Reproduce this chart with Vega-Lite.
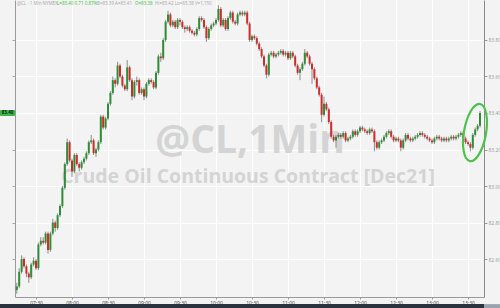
{
"$schema": "https://vega.github.io/schema/vega-lite/v6.json",
"width": 469, "height": 297,
"autosize": {"type": "none"},
"padding": {"left": 15, "top": 0, "right": 16, "bottom": 11},
"background": "#f3f3f3",
"view": {"stroke": null},
"config": {"font": "Open Sans"},
"resolve": {"axis": {"y": "independent"}},
"data": {"values": [
{"t":"2021-10-26T07:14","o":82.43,"h":82.47,"l":82.41,"c":82.45},
{"t":"2021-10-26T07:16","o":82.45,"h":82.55,"l":82.44,"c":82.53},
{"t":"2021-10-26T07:18","o":82.53,"h":82.62,"l":82.52,"c":82.60},
{"t":"2021-10-26T07:20","o":82.60,"h":82.61,"l":82.55,"c":82.56},
{"t":"2021-10-26T07:22","o":82.56,"h":82.57,"l":82.50,"c":82.52},
{"t":"2021-10-26T07:24","o":82.52,"h":82.53,"l":82.47,"c":82.50},
{"t":"2021-10-26T07:26","o":82.50,"h":82.58,"l":82.49,"c":82.57},
{"t":"2021-10-26T07:28","o":82.57,"h":82.61,"l":82.56,"c":82.59},
{"t":"2021-10-26T07:30","o":82.59,"h":82.60,"l":82.54,"c":82.55},
{"t":"2021-10-26T07:32","o":82.55,"h":82.69,"l":82.54,"c":82.68},
{"t":"2021-10-26T07:34","o":82.68,"h":82.72,"l":82.67,"c":82.70},
{"t":"2021-10-26T07:36","o":82.70,"h":82.72,"l":82.68,"c":82.69},
{"t":"2021-10-26T07:38","o":82.69,"h":82.75,"l":82.68,"c":82.74},
{"t":"2021-10-26T07:40","o":82.74,"h":82.75,"l":82.63,"c":82.65},
{"t":"2021-10-26T07:42","o":82.65,"h":82.75,"l":82.64,"c":82.74},
{"t":"2021-10-26T07:44","o":82.74,"h":82.82,"l":82.73,"c":82.80},
{"t":"2021-10-26T07:46","o":82.80,"h":82.81,"l":82.75,"c":82.77},
{"t":"2021-10-26T07:48","o":82.77,"h":82.85,"l":82.76,"c":82.84},
{"t":"2021-10-26T07:50","o":82.84,"h":82.90,"l":82.83,"c":82.89},
{"t":"2021-10-26T07:52","o":82.89,"h":83.00,"l":82.88,"c":82.99},
{"t":"2021-10-26T07:54","o":82.99,"h":83.13,"l":82.98,"c":83.12},
{"t":"2021-10-26T07:56","o":83.12,"h":83.26,"l":83.11,"c":83.24},
{"t":"2021-10-26T07:58","o":83.24,"h":83.25,"l":83.13,"c":83.14},
{"t":"2021-10-26T08:00","o":83.14,"h":83.15,"l":83.05,"c":83.08},
{"t":"2021-10-26T08:02","o":83.08,"h":83.18,"l":83.07,"c":83.17},
{"t":"2021-10-26T08:04","o":83.17,"h":83.18,"l":83.11,"c":83.12},
{"t":"2021-10-26T08:06","o":83.12,"h":83.13,"l":83.08,"c":83.10},
{"t":"2021-10-26T08:08","o":83.10,"h":83.14,"l":83.09,"c":83.13},
{"t":"2021-10-26T08:10","o":83.13,"h":83.16,"l":83.12,"c":83.15},
{"t":"2021-10-26T08:12","o":83.15,"h":83.19,"l":83.14,"c":83.18},
{"t":"2021-10-26T08:14","o":83.18,"h":83.25,"l":83.17,"c":83.24},
{"t":"2021-10-26T08:16","o":83.24,"h":83.28,"l":83.23,"c":83.25},
{"t":"2021-10-26T08:18","o":83.25,"h":83.26,"l":83.17,"c":83.18},
{"t":"2021-10-26T08:20","o":83.18,"h":83.21,"l":83.16,"c":83.20},
{"t":"2021-10-26T08:22","o":83.20,"h":83.25,"l":83.19,"c":83.24},
{"t":"2021-10-26T08:24","o":83.24,"h":83.39,"l":83.23,"c":83.38},
{"t":"2021-10-26T08:26","o":83.38,"h":83.39,"l":83.31,"c":83.32},
{"t":"2021-10-26T08:28","o":83.32,"h":83.38,"l":83.31,"c":83.37},
{"t":"2021-10-26T08:30","o":83.37,"h":83.46,"l":83.36,"c":83.45},
{"t":"2021-10-26T08:32","o":83.45,"h":83.52,"l":83.44,"c":83.51},
{"t":"2021-10-26T08:34","o":83.51,"h":83.60,"l":83.50,"c":83.58},
{"t":"2021-10-26T08:36","o":83.58,"h":83.59,"l":83.54,"c":83.56},
{"t":"2021-10-26T08:38","o":83.56,"h":83.68,"l":83.55,"c":83.66},
{"t":"2021-10-26T08:40","o":83.66,"h":83.67,"l":83.59,"c":83.60},
{"t":"2021-10-26T08:42","o":83.60,"h":83.61,"l":83.54,"c":83.55},
{"t":"2021-10-26T08:44","o":83.55,"h":83.56,"l":83.52,"c":83.53},
{"t":"2021-10-26T08:46","o":83.53,"h":83.69,"l":83.52,"c":83.65},
{"t":"2021-10-26T08:48","o":83.65,"h":83.66,"l":83.57,"c":83.58},
{"t":"2021-10-26T08:50","o":83.58,"h":83.59,"l":83.47,"c":83.49},
{"t":"2021-10-26T08:52","o":83.49,"h":83.58,"l":83.48,"c":83.57},
{"t":"2021-10-26T08:54","o":83.57,"h":83.60,"l":83.55,"c":83.58},
{"t":"2021-10-26T08:56","o":83.58,"h":83.59,"l":83.50,"c":83.51},
{"t":"2021-10-26T08:58","o":83.51,"h":83.54,"l":83.50,"c":83.53},
{"t":"2021-10-26T09:00","o":83.53,"h":83.54,"l":83.47,"c":83.49},
{"t":"2021-10-26T09:02","o":83.49,"h":83.57,"l":83.48,"c":83.56},
{"t":"2021-10-26T09:04","o":83.56,"h":83.59,"l":83.55,"c":83.58},
{"t":"2021-10-26T09:06","o":83.58,"h":83.59,"l":83.56,"c":83.57},
{"t":"2021-10-26T09:08","o":83.57,"h":83.58,"l":83.53,"c":83.54},
{"t":"2021-10-26T09:10","o":83.54,"h":83.63,"l":83.53,"c":83.62},
{"t":"2021-10-26T09:12","o":83.62,"h":83.72,"l":83.61,"c":83.71},
{"t":"2021-10-26T09:14","o":83.71,"h":83.73,"l":83.68,"c":83.70},
{"t":"2021-10-26T09:16","o":83.70,"h":83.81,"l":83.69,"c":83.80},
{"t":"2021-10-26T09:18","o":83.80,"h":83.91,"l":83.79,"c":83.90},
{"t":"2021-10-26T09:20","o":83.90,"h":83.96,"l":83.89,"c":83.94},
{"t":"2021-10-26T09:22","o":83.94,"h":83.95,"l":83.87,"c":83.88},
{"t":"2021-10-26T09:24","o":83.88,"h":83.91,"l":83.87,"c":83.90},
{"t":"2021-10-26T09:26","o":83.90,"h":83.91,"l":83.86,"c":83.87},
{"t":"2021-10-26T09:28","o":83.87,"h":83.92,"l":83.86,"c":83.91},
{"t":"2021-10-26T09:30","o":83.91,"h":83.92,"l":83.88,"c":83.90},
{"t":"2021-10-26T09:32","o":83.90,"h":83.91,"l":83.86,"c":83.87},
{"t":"2021-10-26T09:34","o":83.87,"h":83.88,"l":83.84,"c":83.86},
{"t":"2021-10-26T09:36","o":83.86,"h":83.88,"l":83.85,"c":83.87},
{"t":"2021-10-26T09:38","o":83.87,"h":83.88,"l":83.84,"c":83.85},
{"t":"2021-10-26T09:40","o":83.85,"h":83.86,"l":83.83,"c":83.84},
{"t":"2021-10-26T09:42","o":83.84,"h":83.85,"l":83.82,"c":83.83},
{"t":"2021-10-26T09:44","o":83.83,"h":83.87,"l":83.82,"c":83.86},
{"t":"2021-10-26T09:46","o":83.86,"h":83.93,"l":83.85,"c":83.92},
{"t":"2021-10-26T09:48","o":83.92,"h":83.93,"l":83.90,"c":83.91},
{"t":"2021-10-26T09:50","o":83.91,"h":83.92,"l":83.86,"c":83.87},
{"t":"2021-10-26T09:52","o":83.87,"h":83.88,"l":83.79,"c":83.81},
{"t":"2021-10-26T09:54","o":83.81,"h":83.87,"l":83.80,"c":83.86},
{"t":"2021-10-26T09:56","o":83.86,"h":83.89,"l":83.85,"c":83.88},
{"t":"2021-10-26T09:58","o":83.88,"h":83.90,"l":83.87,"c":83.89},
{"t":"2021-10-26T10:00","o":83.89,"h":83.92,"l":83.88,"c":83.91},
{"t":"2021-10-26T10:02","o":83.91,"h":83.99,"l":83.90,"c":83.97},
{"t":"2021-10-26T10:04","o":83.97,"h":83.98,"l":83.87,"c":83.88},
{"t":"2021-10-26T10:06","o":83.88,"h":83.92,"l":83.87,"c":83.91},
{"t":"2021-10-26T10:08","o":83.91,"h":83.92,"l":83.85,"c":83.86},
{"t":"2021-10-26T10:10","o":83.86,"h":83.93,"l":83.85,"c":83.92},
{"t":"2021-10-26T10:12","o":83.92,"h":83.96,"l":83.91,"c":83.95},
{"t":"2021-10-26T10:14","o":83.95,"h":83.96,"l":83.89,"c":83.90},
{"t":"2021-10-26T10:16","o":83.90,"h":83.91,"l":83.88,"c":83.89},
{"t":"2021-10-26T10:18","o":83.89,"h":83.95,"l":83.88,"c":83.94},
{"t":"2021-10-26T10:20","o":83.94,"h":83.96,"l":83.93,"c":83.95},
{"t":"2021-10-26T10:22","o":83.95,"h":83.96,"l":83.93,"c":83.94},
{"t":"2021-10-26T10:24","o":83.94,"h":83.96,"l":83.93,"c":83.95},
{"t":"2021-10-26T10:26","o":83.95,"h":83.96,"l":83.88,"c":83.89},
{"t":"2021-10-26T10:28","o":83.89,"h":83.90,"l":83.79,"c":83.80},
{"t":"2021-10-26T10:30","o":83.80,"h":83.83,"l":83.79,"c":83.82},
{"t":"2021-10-26T10:32","o":83.82,"h":83.83,"l":83.80,"c":83.81},
{"t":"2021-10-26T10:34","o":83.81,"h":83.82,"l":83.77,"c":83.78},
{"t":"2021-10-26T10:36","o":83.78,"h":83.79,"l":83.74,"c":83.75},
{"t":"2021-10-26T10:38","o":83.75,"h":83.76,"l":83.70,"c":83.71},
{"t":"2021-10-26T10:40","o":83.71,"h":83.72,"l":83.65,"c":83.66},
{"t":"2021-10-26T10:42","o":83.66,"h":83.67,"l":83.59,"c":83.61},
{"t":"2021-10-26T10:44","o":83.61,"h":83.73,"l":83.60,"c":83.72},
{"t":"2021-10-26T10:46","o":83.72,"h":83.74,"l":83.71,"c":83.73},
{"t":"2021-10-26T10:48","o":83.73,"h":83.74,"l":83.70,"c":83.71},
{"t":"2021-10-26T10:50","o":83.71,"h":83.73,"l":83.70,"c":83.72},
{"t":"2021-10-26T10:52","o":83.72,"h":83.74,"l":83.71,"c":83.73},
{"t":"2021-10-26T10:54","o":83.73,"h":83.75,"l":83.72,"c":83.74},
{"t":"2021-10-26T10:56","o":83.74,"h":83.75,"l":83.71,"c":83.72},
{"t":"2021-10-26T10:58","o":83.72,"h":83.74,"l":83.71,"c":83.73},
{"t":"2021-10-26T11:00","o":83.73,"h":83.74,"l":83.69,"c":83.70},
{"t":"2021-10-26T11:02","o":83.70,"h":83.74,"l":83.69,"c":83.73},
{"t":"2021-10-26T11:04","o":83.73,"h":83.74,"l":83.70,"c":83.71},
{"t":"2021-10-26T11:06","o":83.71,"h":83.72,"l":83.65,"c":83.66},
{"t":"2021-10-26T11:08","o":83.66,"h":83.67,"l":83.61,"c":83.62},
{"t":"2021-10-26T11:10","o":83.62,"h":83.65,"l":83.58,"c":83.64},
{"t":"2021-10-26T11:12","o":83.64,"h":83.68,"l":83.63,"c":83.67},
{"t":"2021-10-26T11:14","o":83.67,"h":83.75,"l":83.66,"c":83.73},
{"t":"2021-10-26T11:16","o":83.73,"h":83.74,"l":83.70,"c":83.71},
{"t":"2021-10-26T11:18","o":83.71,"h":83.72,"l":83.66,"c":83.67},
{"t":"2021-10-26T11:20","o":83.67,"h":83.68,"l":83.56,"c":83.64},
{"t":"2021-10-26T11:22","o":83.64,"h":83.65,"l":83.58,"c":83.59},
{"t":"2021-10-26T11:24","o":83.59,"h":83.60,"l":83.53,"c":83.54},
{"t":"2021-10-26T11:26","o":83.54,"h":83.55,"l":83.49,"c":83.50},
{"t":"2021-10-26T11:28","o":83.50,"h":83.51,"l":83.35,"c":83.39},
{"t":"2021-10-26T11:30","o":83.39,"h":83.49,"l":83.38,"c":83.45},
{"t":"2021-10-26T11:32","o":83.45,"h":83.46,"l":83.41,"c":83.42},
{"t":"2021-10-26T11:34","o":83.42,"h":83.43,"l":83.34,"c":83.35},
{"t":"2021-10-26T11:36","o":83.35,"h":83.36,"l":83.26,"c":83.27},
{"t":"2021-10-26T11:38","o":83.27,"h":83.28,"l":83.24,"c":83.25},
{"t":"2021-10-26T11:40","o":83.25,"h":83.28,"l":83.21,"c":83.27},
{"t":"2021-10-26T11:42","o":83.27,"h":83.29,"l":83.26,"c":83.28},
{"t":"2021-10-26T11:44","o":83.28,"h":83.29,"l":83.26,"c":83.27},
{"t":"2021-10-26T11:46","o":83.27,"h":83.30,"l":83.26,"c":83.29},
{"t":"2021-10-26T11:48","o":83.29,"h":83.30,"l":83.24,"c":83.25},
{"t":"2021-10-26T11:50","o":83.25,"h":83.27,"l":83.24,"c":83.26},
{"t":"2021-10-26T11:52","o":83.26,"h":83.28,"l":83.25,"c":83.27},
{"t":"2021-10-26T11:54","o":83.27,"h":83.31,"l":83.26,"c":83.30},
{"t":"2021-10-26T11:56","o":83.30,"h":83.31,"l":83.27,"c":83.28},
{"t":"2021-10-26T11:58","o":83.28,"h":83.31,"l":83.27,"c":83.30},
{"t":"2021-10-26T12:00","o":83.30,"h":83.33,"l":83.29,"c":83.32},
{"t":"2021-10-26T12:02","o":83.32,"h":83.33,"l":83.30,"c":83.31},
{"t":"2021-10-26T12:04","o":83.31,"h":83.32,"l":83.29,"c":83.30},
{"t":"2021-10-26T12:06","o":83.30,"h":83.31,"l":83.28,"c":83.29},
{"t":"2021-10-26T12:08","o":83.29,"h":83.32,"l":83.28,"c":83.31},
{"t":"2021-10-26T12:10","o":83.31,"h":83.32,"l":83.29,"c":83.30},
{"t":"2021-10-26T12:12","o":83.30,"h":83.31,"l":83.19,"c":83.24},
{"t":"2021-10-26T12:14","o":83.24,"h":83.25,"l":83.20,"c":83.21},
{"t":"2021-10-26T12:16","o":83.21,"h":83.25,"l":83.20,"c":83.24},
{"t":"2021-10-26T12:18","o":83.24,"h":83.26,"l":83.23,"c":83.25},
{"t":"2021-10-26T12:20","o":83.25,"h":83.28,"l":83.24,"c":83.27},
{"t":"2021-10-26T12:22","o":83.27,"h":83.30,"l":83.26,"c":83.29},
{"t":"2021-10-26T12:24","o":83.29,"h":83.31,"l":83.28,"c":83.30},
{"t":"2021-10-26T12:26","o":83.30,"h":83.31,"l":83.26,"c":83.27},
{"t":"2021-10-26T12:28","o":83.27,"h":83.28,"l":83.24,"c":83.25},
{"t":"2021-10-26T12:30","o":83.25,"h":83.27,"l":83.24,"c":83.26},
{"t":"2021-10-26T12:32","o":83.26,"h":83.27,"l":83.24,"c":83.25},
{"t":"2021-10-26T12:34","o":83.25,"h":83.26,"l":83.19,"c":83.21},
{"t":"2021-10-26T12:36","o":83.21,"h":83.26,"l":83.20,"c":83.25},
{"t":"2021-10-26T12:38","o":83.25,"h":83.29,"l":83.24,"c":83.28},
{"t":"2021-10-26T12:40","o":83.28,"h":83.29,"l":83.25,"c":83.26},
{"t":"2021-10-26T12:42","o":83.26,"h":83.27,"l":83.24,"c":83.25},
{"t":"2021-10-26T12:44","o":83.25,"h":83.27,"l":83.24,"c":83.26},
{"t":"2021-10-26T12:46","o":83.26,"h":83.28,"l":83.25,"c":83.27},
{"t":"2021-10-26T12:48","o":83.27,"h":83.29,"l":83.26,"c":83.28},
{"t":"2021-10-26T12:50","o":83.28,"h":83.30,"l":83.27,"c":83.29},
{"t":"2021-10-26T12:52","o":83.29,"h":83.30,"l":83.27,"c":83.28},
{"t":"2021-10-26T12:54","o":83.28,"h":83.29,"l":83.26,"c":83.27},
{"t":"2021-10-26T12:56","o":83.27,"h":83.28,"l":83.25,"c":83.26},
{"t":"2021-10-26T12:58","o":83.26,"h":83.27,"l":83.24,"c":83.25},
{"t":"2021-10-26T13:00","o":83.25,"h":83.26,"l":83.23,"c":83.24},
{"t":"2021-10-26T13:02","o":83.24,"h":83.27,"l":83.23,"c":83.26},
{"t":"2021-10-26T13:04","o":83.26,"h":83.28,"l":83.25,"c":83.27},
{"t":"2021-10-26T13:06","o":83.27,"h":83.28,"l":83.25,"c":83.26},
{"t":"2021-10-26T13:08","o":83.26,"h":83.27,"l":83.24,"c":83.25},
{"t":"2021-10-26T13:10","o":83.25,"h":83.27,"l":83.24,"c":83.26},
{"t":"2021-10-26T13:12","o":83.26,"h":83.27,"l":83.24,"c":83.25},
{"t":"2021-10-26T13:14","o":83.25,"h":83.27,"l":83.24,"c":83.26},
{"t":"2021-10-26T13:16","o":83.26,"h":83.28,"l":83.25,"c":83.27},
{"t":"2021-10-26T13:18","o":83.27,"h":83.28,"l":83.25,"c":83.26},
{"t":"2021-10-26T13:20","o":83.26,"h":83.28,"l":83.25,"c":83.27},
{"t":"2021-10-26T13:22","o":83.27,"h":83.29,"l":83.26,"c":83.28},
{"t":"2021-10-26T13:24","o":83.28,"h":83.30,"l":83.27,"c":83.29},
{"t":"2021-10-26T13:26","o":83.29,"h":83.30,"l":83.25,"c":83.26},
{"t":"2021-10-26T13:28","o":83.26,"h":83.27,"l":83.23,"c":83.24},
{"t":"2021-10-26T13:30","o":83.24,"h":83.25,"l":83.22,"c":83.23},
{"t":"2021-10-26T13:32","o":83.23,"h":83.24,"l":83.19,"c":83.21},
{"t":"2021-10-26T13:34","o":83.21,"h":83.29,"l":83.20,"c":83.28},
{"t":"2021-10-26T13:36","o":83.28,"h":83.32,"l":83.27,"c":83.31},
{"t":"2021-10-26T13:38","o":83.31,"h":83.34,"l":83.30,"c":83.33},
{"t":"2021-10-26T13:40","o":83.33,"h":83.41,"l":83.32,"c":83.40}
]},
"encoding": {
  "x": {"field": "t", "type": "temporal", "title": null,
    "scale": {"domain": [{"year":2021,"month":10,"date":26,"hours":7,"minutes":12,"seconds":30},{"year":2021,"month":10,"date":26,"hours":13,"minutes":43,"seconds":20}], "nice": false, "padding": 0},
    "axis": {"format": "%H:%M", "labelFontSize": 5, "labelColor": "#444444", "tickSize": 2, "tickColor": "#9a9a9a", "domainColor": "#9a9a9a", "grid": true, "gridColor": "#ffffff", "labelPadding": 1, "title": null}}
},
"layer": [
  {
    "data": {"values": [{"t": "2021-10-26T10:28:20", "label": "@CL,1Min"}]},
    "mark": {"type": "text", "font": "Open Sans", "fontSize": 39, "fontWeight": "bold", "color": "#d4d4d4", "align": "center", "baseline": "alphabetic"},
    "encoding": {
      "y": {"datum": 83.18, "type": "quantitative", "scale": {"domain": [82.392, 84.019], "nice": false, "zero": false}, "axis": null},
      "text": {"field": "label"}
    }
  },
  {
    "data": {"values": [{"t": "2021-10-26T10:26:40", "label": "Crude Oil Continuous Contract [Dec21]"}]},
    "mark": {"type": "text", "font": "Open Sans", "fontSize": 19.5, "fontWeight": "bold", "color": "#d4d4d4", "align": "center", "baseline": "alphabetic"},
    "encoding": {
      "y": {"datum": 83.015, "type": "quantitative", "scale": {"domain": [82.392, 84.019], "nice": false, "zero": false}, "axis": null},
      "text": {"field": "label"}
    }
  },
  {
    "mark": {"type": "rule", "color": "#8c8c8c", "strokeWidth": 1},
    "encoding": {
      "y": {"field": "l", "type": "quantitative", "title": null, "scale": {"domain": [82.392, 84.019], "nice": false, "zero": false},
        "axis": {"orient": "right", "values": [82.6, 82.8, 83.0, 83.2, 83.4, 83.6, 83.8], "format": ".2f", "labelFontSize": 5, "labelColor": "#9a9a9a", "tickSize": 3, "tickColor": "#9a9a9a", "domainColor": "#8a8a8a", "grid": true, "gridColor": "#ffffff", "labelPadding": 1, "title": null}},
      "y2": {"field": "h"}
    }
  },
  {
    "mark": {"type": "bar", "size": 2},
    "encoding": {
      "y": {"field": "o", "type": "quantitative", "scale": {"domain": [82.392, 84.019], "nice": false, "zero": false}, "axis": null},
      "y2": {"field": "c"},
      "color": {"condition": {"test": "datum.c >= datum.o", "value": "#2f8d36"}, "value": "#d12a2a"}
    }
  },
  {
    "data": {"values": [{"t": "2021-10-26T13:35:50", "p": 83.293}]},
    "mark": {"type": "point", "shape": "M 0 -1 C 0.21 -1 0.38 -0.552 0.38 0 C 0.38 0.552 0.21 1 0 1 C -0.21 1 -0.38 0.552 -0.38 0 C -0.38 -0.552 -0.21 -1 0 -1 Z", "size": 3364, "angle": 10, "filled": false, "color": "#4cc24c", "strokeWidth": 2.2, "opacity": 1},
    "encoding": {
      "y": {"field": "p", "type": "quantitative", "title": null, "scale": {"domain": [82.392, 84.019], "nice": false, "zero": false},
        "axis": {"orient": "left", "values": [82.6, 82.8, 83.0, 83.2, 83.4, 83.6, 83.8], "labels": false, "tickSize": 3, "tickColor": "#aaaaaa", "domainColor": "#9a9a9a", "grid": false, "title": null}}
    }
  },
  {
    "data": {"values": [
      {"t": "2021-10-26T07:14:10", "label": "@CL · 1 Min  NYMEX", "kind": "info"},
      {"t": "2021-10-26T07:47:30", "label": "L=83.40  0.71  0.87%", "kind": "quote"},
      {"t": "2021-10-26T08:20:50", "label": "B=83.39  A=83.41", "kind": "info"},
      {"t": "2021-10-26T08:52:30", "label": "O=83.38", "kind": "quote"},
      {"t": "2021-10-26T09:09:10", "label": "Hi=83.42  Lo=83.38  V=1,150", "kind": "info"}
    ]},
    "mark": {"type": "text", "font": "Open Sans", "fontSize": 4.5, "align": "left", "baseline": "middle"},
    "encoding": {
      "y": {"datum": 83.997, "type": "quantitative", "scale": {"domain": [82.392, 84.019], "nice": false, "zero": false}, "axis": null},
      "text": {"field": "label"},
      "color": {"condition": {"test": "datum.kind === 'quote'", "value": "#3cbf3c"}, "value": "#a8a8a8"}
    }
  },
  {
    "data": {"values": [{"t": "2021-10-26T07:00:00", "t2": "2021-10-26T07:12:30"}]},
    "mark": {"type": "rect", "color": "#3bb54a", "cornerRadius": 1},
    "encoding": {
      "x2": {"field": "t2"},
      "y": {"datum": 83.384, "type": "quantitative", "scale": {"domain": [82.392, 84.019], "nice": false, "zero": false}, "axis": null},
      "y2": {"datum": 83.416}
    }
  },
  {
    "data": {"values": [{"t": "2021-10-26T07:06:15", "label": "83.40"}]},
    "mark": {"type": "text", "font": "Open Sans", "fontSize": 4.5, "fontWeight": "bold", "color": "#0e2e10", "align": "center", "baseline": "middle"},
    "encoding": {
      "y": {"datum": 83.40, "type": "quantitative", "scale": {"domain": [82.392, 84.019], "nice": false, "zero": false}, "axis": null},
      "text": {"field": "label"}
    }
  },
  {
    "data": {"values": [
      {"t": "2021-10-26T07:00:00", "t2": "2021-10-26T13:43:20", "part": "track"},
      {"t": "2021-10-26T13:43:20", "t2": "2021-10-26T13:57:00", "part": "thumb"}
    ]},
    "mark": {"type": "rect"},
    "encoding": {
      "x2": {"field": "t2"},
      "y": {"datum": 82.353, "type": "quantitative", "scale": {"domain": [82.392, 84.019], "nice": false, "zero": false}, "axis": null},
      "y2": {"datum": 82.331},
      "color": {"condition": {"test": "datum.part === 'track'", "value": "#2b333e"}, "value": "#9aa3ae"}
    }
  }
]
}
